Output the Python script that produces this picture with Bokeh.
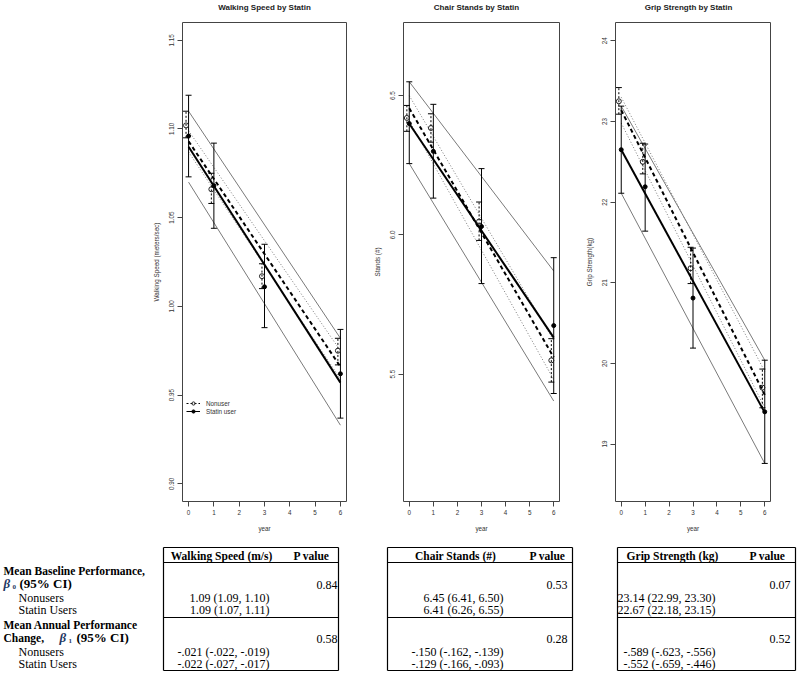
import numpy as np
from bokeh.plotting import figure
from bokeh.layouts import column, row
from bokeh.models import (ColumnDataSource, Range1d, FixedTicker, Legend, LegendItem,
                          NumeralTickFormatter)
from bokeh.core.properties import value
from bokeh.embed import file_html
from bokeh.resources import INLINE

# ---------------- data ----------------
years = [0, 1, 3, 6]
fit_years = [0, 6]

# Walking speed (m/s)
ws_non_mean = [1.102, 1.066, 1.017, 0.975]
ws_non_lo = [1.095, 1.058, 1.010, 0.967]
ws_non_hi = [1.110, 1.075, 1.024, 0.982]
ws_sta_mean = [1.096, 1.068, 1.011, 0.962]
ws_sta_lo = [1.073, 1.044, 0.988, 0.937]
ws_sta_hi = [1.119, 1.092, 1.035, 0.987]
ws_non_fit = [1.093, 0.966]
ws_non_fit_lo = [1.087, 0.959]
ws_non_fit_hi = [1.099, 0.975]
ws_sta_fit = [1.090, 0.957]
ws_sta_fit_lo = [1.070, 0.933]
ws_sta_fit_hi = [1.110, 0.982]

# Chair stands (#)
cs_non_mean = [6.420, 6.384, 6.048, 5.549]
cs_non_lo = [6.372, 6.333, 5.980, 5.471]
cs_non_hi = [6.465, 6.435, 6.118, 5.627]
cs_sta_mean = [6.400, 6.300, 6.030, 5.674]
cs_sta_lo = [6.256, 6.132, 5.825, 5.430]
cs_sta_hi = [6.550, 6.469, 6.238, 5.918]
cs_non_fit = [6.455, 5.560]
cs_non_fit_lo = [6.410, 5.480]
cs_non_fit_hi = [6.500, 5.620]
cs_sta_fit = [6.399, 5.631]
cs_sta_fit_lo = [6.256, 5.403]
cs_sta_fit_hi = [6.550, 5.870]

# Grip strength (kg)
gs_non_mean = [23.25, 22.50, 21.18, 19.70]
gs_non_lo = [23.09, 22.35, 20.99, 19.45]
gs_non_hi = [23.42, 22.73, 21.44, 19.93]
gs_sta_mean = [22.65, 22.19, 20.81, 19.40]
gs_sta_lo = [22.11, 21.64, 20.19, 18.76]
gs_sta_hi = [23.19, 22.72, 21.43, 20.04]
gs_non_fit = [23.14, 19.61]
gs_non_fit_lo = [22.98, 19.45]
gs_non_fit_hi = [23.30, 19.90]
gs_sta_fit = [22.65, 19.39]
gs_sta_fit_lo = [22.11, 18.76]
gs_sta_fit_hi = [23.19, 20.04]

x_ticks = [0, 1, 2, 3, 4, 5, 6]
ws_ticks = [0.90, 0.95, 1.00, 1.05, 1.10, 1.15]
cs_ticks = [5.5, 6.0, 6.5]
gs_ticks = [19, 20, 21, 22, 23, 24]

panel_titles = ["Walking Speed by Statin", "Chair Stands by Statin", "Grip Strength by Statin"]

# table texts
tbl_headers = ["Walking Speed (m/s)", "Chair Stands (#)", "Grip Strength (kg)"]
base_non = ["1.09 (1.09, 1.10)", "6.45 (6.41, 6.50)", "23.14 (22.99, 23.30)"]
base_sta = ["1.09 (1.07, 1.11)", "6.41 (6.26, 6.55)", "22.67 (22.18, 23.15)"]
base_p = ["0.84", "0.53", "0.07"]
chg_non = ["-.021 (-.022, -.019)", "-.150 (-.162, -.139)", "-.589 (-.623, -.556)"]
chg_sta = ["-.022 (-.027, -.017)", "-.129 (-.166, -.093)", "-.552 (-.659, -.446)"]
chg_p = ["0.58", "0.28", "0.52"]

# ---------------- styles ----------------
SANS = "Liberation Sans"
SERIF = "Liberation Serif"
TXT = "#333333"
GRAY = "#7a7a7a"
DODGE = -0.1


def panel(ylabel, yr, yticks, fmt, d, width, bl, br, legend=False):
    (nm, nlo, nhi, sm, slo, shi, nf, nflo, nfhi, sf, sflo, sfhi) = d
    p = figure(width=width, height=524, x_range=Range1d(-0.24, 6.24), y_range=Range1d(*yr),
               output_backend="svg", toolbar_location=None,
               min_border_left=bl, min_border_right=br, min_border_top=6, min_border_bottom=39)
    p.grid.visible = False
    p.outline_line_color = "#444444"
    p.outline_line_width = 1
    p.background_fill_color = "white"

    for ax in (p.xaxis[0], p.yaxis[0]):
        ax.major_tick_out = 5
        ax.major_tick_in = 0
        ax.minor_tick_out = 0
        ax.minor_tick_in = 0
        ax.axis_line_color = "#444444"
        ax.major_tick_line_color = "#444444"
        ax.major_label_text_font = SANS
        ax.major_label_text_font_size = "6.3px"
        ax.major_label_text_color = TXT
        ax.axis_label_text_font = SANS
        ax.axis_label_text_font_size = "6.3px"
        ax.axis_label_text_font_style = "normal"
        ax.axis_label_text_color = TXT
        ax.major_label_standoff = 3
    p.xaxis.ticker = FixedTicker(ticks=x_ticks)
    p.xaxis.bounds = (x_ticks[0], x_ticks[-1])
    p.xaxis.axis_label = "year"
    p.xaxis.axis_label_standoff = 7
    p.yaxis.ticker = FixedTicker(ticks=yticks)
    p.yaxis.bounds = (yticks[0], yticks[-1])
    p.yaxis.formatter = NumeralTickFormatter(format=fmt)
    p.yaxis.major_label_orientation = "vertical"
    p.yaxis.axis_label = ylabel
    p.yaxis.axis_label_standoff = 7

    nx = [y + DODGE for y in years]
    # CI lines of fits
    p.line(fit_years, sfhi, line_color=GRAY, line_width=1)
    p.line(fit_years, sflo, line_color=GRAY, line_width=1)
    p.line(fit_years, nfhi, line_color=GRAY, line_width=1, line_dash="1 2")
    p.line(fit_years, nflo, line_color=GRAY, line_width=1, line_dash="1 2")
    # fits
    p.line(fit_years, sf, line_color="black", line_width=2)
    p.line(fit_years, nf, line_color="black", line_width=2, line_dash="4 3")
    # error bars
    eb_s = p.segment(x0=years, y0=slo, x1=years, y1=shi, line_color="black", line_width=1)
    p.scatter(years + years, slo + shi, marker="dash", size=6, line_color="black", line_width=1)
    eb_n = p.segment(x0=nx, y0=nlo, x1=nx, y1=nhi, line_color="black", line_width=1,
                     line_dash="2 2")
    p.scatter(nx + nx, nlo + nhi, marker="dash", size=6, line_color="black", line_width=1)
    # points
    pt_n = p.scatter(nx, nm, marker="circle", size=5, fill_color=None, line_color="#222222",
                     line_width=1)
    pt_s = p.scatter(years, sm, marker="circle", size=4, fill_color="black", line_color="black")

    if legend:
        lg = Legend(items=[LegendItem(label="Nonuser", renderers=[eb_n, pt_n]),
                           LegendItem(label="Statin user", renderers=[eb_s, pt_s])],
                    location=(4, 86), orientation="vertical")
        lg.background_fill_alpha = 0
        lg.border_line_color = None
        lg.label_text_font = SANS
        lg.label_text_font_size = "6.3px"
        lg.label_text_color = TXT
        lg.glyph_width = 14
        lg.glyph_height = 8
        lg.label_height = 8
        lg.spacing = 0
        lg.padding = 0
        lg.margin = 0
        lg.label_standoff = 6
        p.add_layout(lg)
    return p


p1 = panel("Walking Speed (meters/sec)", (0.890, 1.160), ws_ticks, "0.00",
           (ws_non_mean, ws_non_lo, ws_non_hi, ws_sta_mean, ws_sta_lo, ws_sta_hi,
            ws_non_fit, ws_non_fit_lo, ws_non_fit_hi, ws_sta_fit, ws_sta_fit_lo, ws_sta_fit_hi),
           370, 182, 24, legend=True)
p2 = panel("Stands (#)", (5.042, 6.763), cs_ticks, "0.0",
           (cs_non_mean, cs_non_lo, cs_non_hi, cs_sta_mean, cs_sta_lo, cs_sta_hi,
            cs_non_fit, cs_non_fit_lo, cs_non_fit_hi, cs_sta_fit, cs_sta_fit_lo, cs_sta_fit_hi),
           212, 24, 23)
p3 = panel("Grip Strength(kg)", (18.288, 24.227), gs_ticks, "0",
           (gs_non_mean, gs_non_lo, gs_non_hi, gs_sta_mean, gs_sta_lo, gs_sta_hi,
            gs_non_fit, gs_non_fit_lo, gs_non_fit_hi, gs_sta_fit, gs_sta_fit_lo, gs_sta_fit_hi),
           218, 24, 30)

# ---------------- title strip (panel titles centred over each frame) ----------------
ftt = figure(width=800, height=16, x_range=Range1d(0, 800), y_range=Range1d(16, 0),
             output_backend="svg", toolbar_location=None, min_border=0,
             x_axis_location=None, y_axis_location=None)
ftt.grid.visible = False
ftt.outline_line_color = None
ftt.text(x=[264, 476, 688], y=[7, 7, 7], text=panel_titles, text_align="center",
         text_baseline="middle", text_font=value(SANS), text_font_style="bold",
         text_font_size="8px", text_color="#222222")

# ---------------- tables ----------------
ft = figure(width=800, height=135, x_range=Range1d(0, 800), y_range=Range1d(675, 540),
            output_backend="svg", toolbar_location=None, min_border=0,
            x_axis_location=None, y_axis_location=None)
ft.grid.visible = False
ft.outline_line_color = None

# table geometry (layout): left, right, value right-edge, p right-edge, header centre, p-header centre
tbl_geo = [(163, 338, 269, 337, 221, 311),
           (387, 572, 503, 567, 455, 547),
           (617, 795, 715, 790, 672, 767)]
Y_TOP, Y_HEAD, Y_MID, Y_BOT = 547, 562, 617, 670
for (l, r, vr, pr, hc, pc), hdr, bn, bs, bp, cn, cs, cp in zip(
        tbl_geo, tbl_headers, base_non, base_sta, base_p, chg_non, chg_sta, chg_p):
    ft.segment(x0=[l, l, l, l, l, r], y0=[Y_TOP, Y_HEAD, Y_MID, Y_BOT, Y_TOP, Y_TOP],
               x1=[r, r, r, r, l, r], y1=[Y_TOP, Y_HEAD, Y_MID, Y_BOT, Y_BOT, Y_BOT],
               line_color="black", line_width=1.2)
    ft.text(x=[hc, pc], y=[555, 555], text=[hdr, "P value"], text_align="center",
            text_baseline="middle", text_font=value(SERIF), text_font_style="bold",
            text_font_size="11.5px", text_color="black")
    ft.text(x=[vr, vr, vr, vr], y=[597, 609, 651, 663], text=[bn, bs, cn, cs],
            text_align="right", text_baseline="middle", text_font=value(SERIF),
            text_font_size="12px", text_color="black")
    ft.text(x=[pr, pr], y=[584, 638], text=[bp, cp], text_align="right",
            text_baseline="middle", text_font=value(SERIF), text_font_size="12px",
            text_color="black")

# row labels
ft.text(x=[3, 3, 3], y=[570, 624, 637],
        text=["Mean Baseline Performance,", "Mean Annual Performance", "Change,"],
        text_align="left", text_baseline="middle", text_font=value(SERIF),
        text_font_style="bold", text_font_size="11.5px", text_color="black")
ft.text(x=[3, 59], y=[583, 637], text=["β", "β"], text_align="left", text_baseline="middle",
        text_font=value(SERIF), text_font_style="bold italic", text_font_size="13px",
        text_color="#1f3864")
ft.text(x=[12, 68], y=[586, 640], text=["0", "1"], text_align="left", text_baseline="middle",
        text_font=value(SERIF), text_font_style="bold", text_font_size="7px",
        text_color="#1f3864")
ft.text(x=[19, 76], y=[583, 637], text=["(95% CI)", "(95% CI)"], text_align="left",
        text_baseline="middle", text_font=value(SERIF), text_font_style="bold",
        text_font_size="13px", text_color="black")
ft.text(x=[18, 18, 18, 18], y=[597, 609, 651, 663],
        text=["Nonusers", "Statin Users", "Nonusers", "Statin Users"],
        text_align="left", text_baseline="middle", text_font=value(SERIF),
        text_font_size="12px", text_color="black")

layout = column(ftt, row(p1, p2, p3), ft)
open("out.html", "w").write(file_html(layout, INLINE))
